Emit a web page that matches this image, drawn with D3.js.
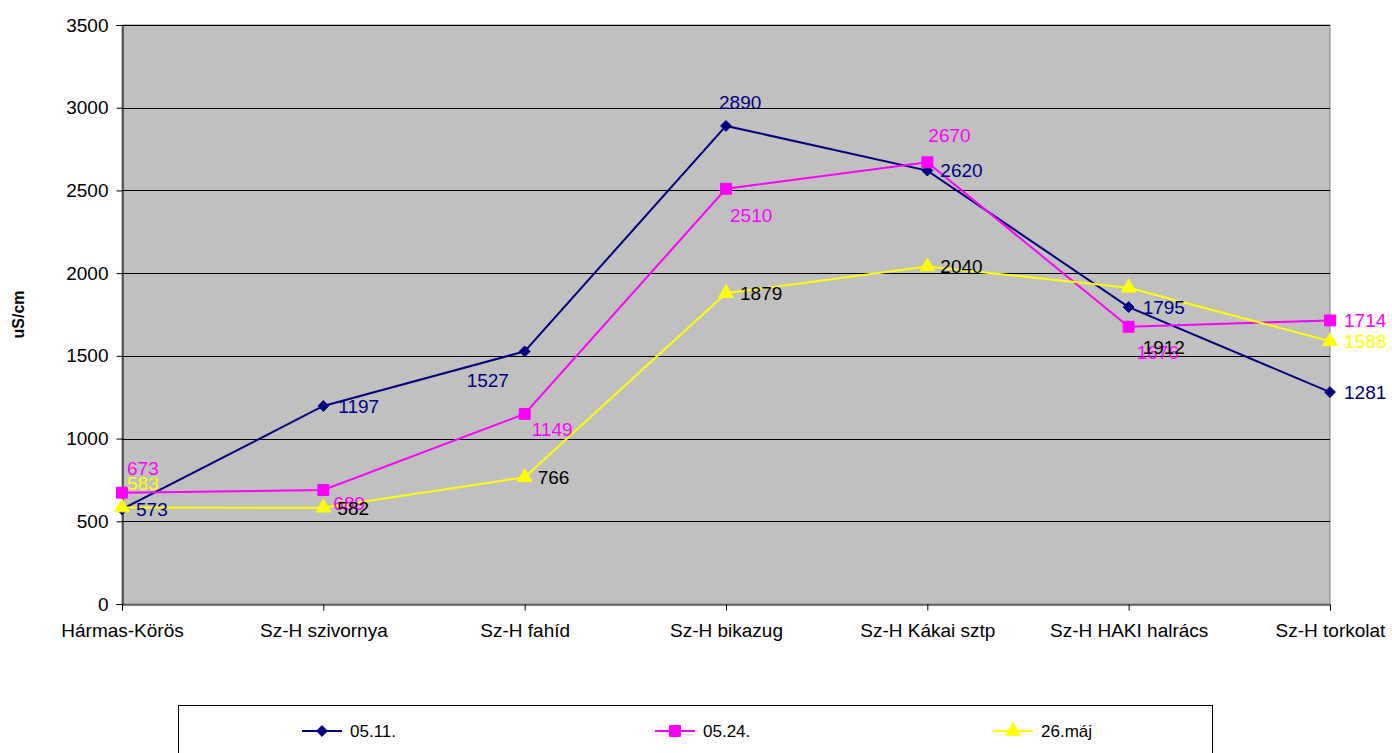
<!DOCTYPE html>
<html>
<head>
<meta charset="utf-8">
<script src="https://cdn.jsdelivr.net/npm/d3@7"></script>
<style>
  body { margin: 0; background: #fff; }
  text { font-family: "Liberation Sans", Arial, sans-serif; }
</style>
</head>
<body>
<svg id="chart" width="1392" height="753"></svg>
<script>
// Sites along the river
const categories = ['Hármas-Körös', 'Sz-H szivornya', 'Sz-H fahíd', 'Sz-H bikazug', 'Sz-H Kákai sztp', 'Sz-H HAKI halrács', 'Sz-H torkolat'];

// Conductivity values (uS/cm)
const seriesNames = ['05.11.', '05.24.', '26.máj'];
const values0511 = [573, 1197, 1527, 2890, 2620, 1795, 1281];
const values0524 = [673, 689, 1149, 2510, 2670, 1676, 1714];
const valuesMaj26 = [583, 582, 766, 1879, 2040, 1912, 1588];

const yTicks = [0, 500, 1000, 1500, 2000, 2500, 3000, 3500];

// Data label placement (manually moved labels in the original), [dx, dy] from the point
const labelOffsets = [
  [[14, 0], [15, 0], [-58, 29], [-7, -24], [13, 0], [14, 0], [14, 0]],
  [[5, -25], [10, 13], [7, 15], [4, 26], [1, -27], [8, 25], [14, 0]],
  [[5, -24], [14, 0], [13, 0], [14, 0], [13, 0], [14, 59], [14, 0]]
];

const series = [
  { name: seriesNames[0], values: values0511, color: '#000080', marker: d3.symbolDiamond2, size: 75, labelColor: () => '#000080' },
  { name: seriesNames[1], values: values0524, color: '#FF00FF', marker: d3.symbolSquare, size: 120, labelColor: () => '#FF00FF' },
  { name: seriesNames[2], values: valuesMaj26, color: '#FFFF00', marker: d3.symbolTriangle, size: 95,
    labelColor: (i) => (i === 0 || i === 6) ? '#FFFF00' : '#000000' }
];

const svg = d3.select('#chart');
const plot = { left: 122, right: 1330, top: 25, bottom: 604 };

const x = d3.scalePoint()
  .domain(categories)
  .range([plot.left, plot.right])
  .padding(0);

const y = d3.scaleLinear()
  .domain([0, 3500])
  .range([plot.bottom, plot.top]);

// Plot background
svg.append('rect')
  .attr('x', plot.left)
  .attr('y', plot.top)
  .attr('width', plot.right - plot.left)
  .attr('height', plot.bottom - plot.top)
  .attr('fill', '#C0C0C0')
  .attr('stroke', '#808080')
  .attr('stroke-width', 1);

// Gridlines
svg.append('g')
  .selectAll('line')
  .data(yTicks.filter(t => t > 0))
  .enter()
  .append('line')
  .attr('x1', plot.left)
  .attr('x2', plot.right)
  .attr('y1', d => Math.round(y(d)) + 0.5)
  .attr('y2', d => Math.round(y(d)) + 0.5)
  .attr('stroke', '#000')
  .attr('stroke-width', 1);

// Y axis
const yAxis = svg.append('g')
  .attr('transform', `translate(${plot.left + 0.5},0)`)
  .call(d3.axisLeft(y).tickValues(yTicks).tickSize(6).tickPadding(8).tickFormat(d3.format('d')));
yAxis.select('.domain').attr('stroke', '#000');
yAxis.selectAll('.tick line').attr('stroke', '#000');
yAxis.selectAll('text').style('font-size', '19px').attr('fill', '#000');

// X axis
const xAxis = svg.append('g')
  .attr('transform', `translate(0,${plot.bottom + 0.5})`)
  .call(d3.axisBottom(x).tickSize(6).tickPadding(13));
xAxis.select('.domain').attr('stroke', '#000');
xAxis.selectAll('.tick line').attr('stroke', '#000');
xAxis.selectAll('text').style('font-size', '19px').attr('fill', '#000');

// Y axis title
svg.append('text')
  .attr('transform', `translate(24,${(plot.top + plot.bottom) / 2}) rotate(-90)`)
  .attr('text-anchor', 'middle')
  .style('font-size', '16px')
  .style('font-weight', 'bold')
  .text('uS/cm');

const line = d3.line()
  .x((d, i) => x(categories[i]))
  .y(d => y(d));

// Lines and markers
series.forEach(s => {
  svg.append('path')
    .datum(s.values)
    .attr('fill', 'none')
    .attr('stroke', s.color)
    .attr('stroke-width', 2)
    .attr('d', line);

  svg.append('g')
    .selectAll('path')
    .data(s.values)
    .enter()
    .append('path')
    .attr('transform', (d, i) => `translate(${x(categories[i])},${y(d)})`)
    .attr('d', d3.symbol().type(s.marker).size(s.size))
    .attr('fill', s.color)
    .attr('stroke', s.color)
    .attr('stroke-width', 1);
});

// Data labels (drawn after all lines so they sit on top)
series.forEach((s, si) => {
  svg.append('g')
    .selectAll('text')
    .data(s.values)
    .enter()
    .append('text')
    .attr('x', (d, i) => x(categories[i]) + labelOffsets[si][i][0])
    .attr('y', (d, i) => y(d) + labelOffsets[si][i][1])
    .attr('dy', '0.36em')
    .style('font-size', '19px')
    .attr('fill', (d, i) => s.labelColor(i))
    .text(d => d);
});

// Legend
const legend = svg.append('g');
legend.append('rect')
  .attr('x', 178.5)
  .attr('y', 705.5)
  .attr('width', 1034)
  .attr('height', 60)
  .attr('fill', '#fff')
  .attr('stroke', '#000')
  .attr('stroke-width', 1);

const legendX = [302, 655, 993];
series.forEach((s, i) => {
  const g = legend.append('g').attr('transform', `translate(${legendX[i]},731)`);
  g.append('line')
    .attr('x1', 0).attr('x2', 40)
    .attr('stroke', s.color)
    .attr('stroke-width', 2);
  g.append('path')
    .attr('transform', 'translate(20,0)')
    .attr('d', d3.symbol().type(s.marker).size(s.size))
    .attr('fill', s.color)
    .attr('stroke', s.color);
  g.append('text')
    .attr('x', 48)
    .attr('dy', '0.36em')
    .style('font-size', '17px')
    .text(s.name);
});
</script>
</body>
</html>
